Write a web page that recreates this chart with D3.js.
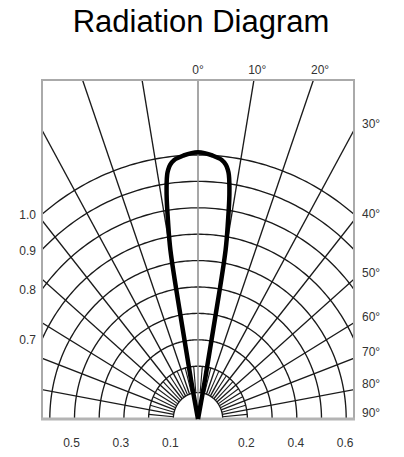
<!DOCTYPE html>
<html><head><meta charset="utf-8">
<script src="https://cdn.jsdelivr.net/npm/d3@7/dist/d3.min.js"></script>
<style>html,body{margin:0;padding:0;background:#fff;}svg{display:block;}</style>
</head><body>
<svg id="c" width="404" height="457"></svg>
<script>
// ---- data ----
const titleText = "Radiation Diagram";
const ringValues = [0.1,0.2,0.3,0.4,0.5,0.6,0.7,0.8,0.9,1.0];
const majorAngles = [10,20,30,40,50,60,70,80];
const minorAngles = [5,15,25,35,45,55,65,75,85];
const topAngleLabels = ["0°","10°","20°"];
const topAngleValues = [0,10,20];
const rightAngleLabels = ["30°","40°","50°","60°","70°","80°","90°"];
const rightAngleValues = [30,40,50,60,70,80,90];
const leftRingLabels = ["1.0","0.9","0.8","0.7"];
const leftRingValues = [1.0,0.9,0.8,0.7];
const bottomLabels = ["0.5","0.3","0.1","0.2","0.4","0.6"];
const bottomValues = [-0.5,-0.3,-0.1,0.2,0.4,0.6];
const lobeAngles = [-11,-10.8,-10.3,-9.9,-9.2,-8.5,-7.7,-7.3,-6.7,-5.6,-3.3,-1.5,0,1.5,3.3,5.6,6.7,7.3,7.7,8.5,9.2,9.9,10.3,10.8,11];
const lobeValues = [0,0.15,0.35,0.65,0.76,0.86,0.933,0.951,0.969,0.986,1.0,1.0075,1.01,1.0075,1.0,0.986,0.969,0.951,0.933,0.86,0.76,0.65,0.35,0.15,0];

// ---- layout ----
const svg = d3.select("#c");
const box = {l:42, r:354, t:80, b:419};
const cx = 198, cy = 419;
const x = d3.scaleLinear().domain([-1,1]).range([cx-247, cx+247]);
const y = d3.scaleLinear().domain([0,1]).range([cy, cy-264]);
const rad = d => d*Math.PI/180;
const P = (r,a) => [x(r*Math.sin(rad(a))), y(r*Math.cos(rad(a)))];
const line = d3.line();

svg.append("text").attr("x",201).attr("y",32).attr("text-anchor","middle")
  .attr("font-family","Liberation Sans, Arial, sans-serif").attr("font-size",31)
  .attr("fill","#000").text(titleText);

svg.append("clipPath").attr("id","bx").append("rect")
  .attr("x",box.l).attr("y",box.t).attr("width",box.r-box.l).attr("height",box.b-box.t);

const g = svg.append("g").attr("clip-path","url(#bx)");
const gridStroke = "#1a1a1a", gw = 1.35;

// rings
ringValues.forEach(v=>{
  const pts = d3.range(-90,90.5,1).map(a=>P(v,a));
  g.append("path").attr("d",line(pts)).attr("fill","none").attr("stroke",gridStroke).attr("stroke-width",gw);
});
// major radial
majorAngles.forEach(a=>{
  [-1,1].forEach(s=>{
    g.append("path").attr("d",line([P(0.1,s*a),P(2.5,s*a)])).attr("stroke",gridStroke).attr("stroke-width",gw);
  });
});
// minor radial
minorAngles.forEach(a=>{
  [-1,1].forEach(s=>{
    g.append("path").attr("d",line([P(0.1,s*a),P(0.2,s*a)])).attr("stroke",gridStroke).attr("stroke-width",1.1);
  });
});
// 0 deg line
g.append("line").attr("x1",x(0)).attr("x2",x(0)).attr("y1",box.t).attr("y2",box.b)
  .attr("stroke","#8a8a8a").attr("stroke-width",1.5);

// box
svg.append("path").attr("d",`M${box.l},${box.b}V${box.t}H${box.r}V${box.b}`).attr("fill","none")
  .attr("stroke","#aaaaaa").attr("stroke-width",2);
svg.append("line").attr("x1",box.l-1).attr("x2",box.r+1).attr("y1",box.b).attr("y2",box.b)
  .attr("stroke","#b4b4b4").attr("stroke-width",3);

// lobe
const lobePts = lobeAngles.map((a,i)=>P(lobeValues[i],a));
svg.append("path").attr("d",d3.line().curve(d3.curveCatmullRom.alpha(0.5))(lobePts))
  .attr("fill","none").attr("stroke","#000").attr("stroke-width",4.5).attr("stroke-linejoin","round");

// labels
const lf = "Liberation Sans, Arial, sans-serif";
const lab = (tx,ty,t,anchor)=>svg.append("text").attr("x",tx).attr("y",ty).attr("text-anchor",anchor||"middle")
  .attr("dominant-baseline","central").attr("font-family",lf).attr("font-size",12).attr("fill","#333").text(t);

topAngleValues.forEach((a,i)=>{
  const xt = x((y.invert(box.t)) * Math.tan(rad(a)));
  lab(xt + a/3, 70, topAngleLabels[i]);
});
rightAngleValues.forEach((a,i)=>{
  const u = x.invert(box.r);
  const v = a>=89.9 ? 0 : u/Math.tan(rad(a));
  lab(box.r+8, y(v)-6, rightAngleLabels[i], "start");
});
leftRingValues.forEach((v,i)=>{
  const u = x.invert(box.l);
  const h = Math.sqrt(Math.max(0, v*v - u*u));
  lab(36, y(h)+1, leftRingLabels[i], "end");
});
bottomValues.forEach((v,i)=>{
  lab(x(v) + (v<0?-3:-1), 443, bottomLabels[i]);
});
</script>
</body></html>
